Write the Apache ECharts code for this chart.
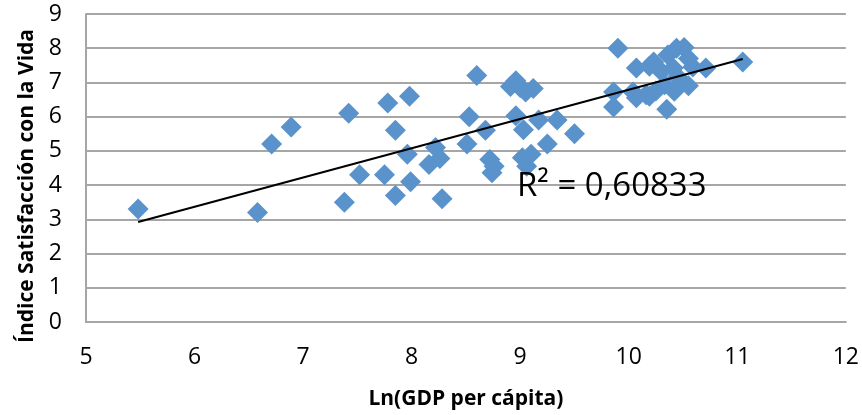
<!DOCTYPE html>
<html>
<head>
<meta charset="utf-8">
<script src="https://cdn.jsdelivr.net/npm/echarts@6/dist/echarts.min.js"></script>
<style>
  html, body { margin: 0; padding: 0; background: #fff; }
  #chart { width: 862px; height: 415px; }
</style>
</head>
<body>
<div id="chart"></div>
<script>
// Ln(GDP per capita) for each country
const gdpLn = [
  5.48, 6.58, 6.71, 6.89, 7.42, 7.38, 7.52, 7.78, 7.75, 7.85,
  7.85, 7.98, 7.96, 7.99, 8.16, 8.22, 8.26, 8.28,
  8.51, 8.53, 8.60, 8.68, 8.72, 8.76, 8.74, 8.91, 8.96, 9.00,
  9.05, 9.12, 8.96, 9.03, 9.17, 9.34, 9.50, 9.25, 9.02, 9.10, 9.06,
  9.90, 10.07, 9.86, 9.86, 10.04, 10.07, 10.16, 10.19, 10.23, 10.36,
  10.44, 10.51, 10.55, 10.59, 10.30, 10.41, 10.45, 10.33, 10.25, 10.42,
  10.19, 10.35, 10.55, 10.71, 11.05
]
// life satisfaction index, same order
const lifeSat = [
  3.30, 3.20, 5.20, 5.70, 6.10, 3.50, 4.30, 6.40, 4.30, 3.70,
  5.60, 6.60, 4.90, 4.10, 4.60, 5.10, 4.78, 3.60,
  5.20, 6.00, 7.20, 5.60, 4.75, 4.55, 4.36, 6.88, 7.05, 6.85,
  6.72, 6.82, 6.03, 5.62, 5.90, 5.90, 5.50, 5.20, 4.80, 4.90, 4.55,
  8.00, 7.42, 6.72, 6.28, 6.72, 6.55, 6.64, 7.47, 7.60, 7.80,
  8.00, 8.02, 7.70, 7.45, 7.32, 7.42, 7.17, 6.93, 6.75, 6.74,
  6.60, 6.22, 6.90, 7.42, 7.60
]
// linear trend
const trendSlope = 0.855
const trendIntercept = -1.765
const trendLabel = 'R² = 0,60833'

const xTicks = [5, 6, 7, 8, 9, 10, 11, 12]
const yTicks = [0, 1, 2, 3, 4, 5, 6, 7, 8, 9]

const points = gdpLn.map((x, i) => [x, lifeSat[i]])
const xMin = Math.min(...gdpLn)
const xMax = Math.max(...gdpLn)
const trendLine = [
  [xMin, trendIntercept + trendSlope * xMin],
  [xMax, trendIntercept + trendSlope * xMax]
]

const font = "'Open Sans', 'Liberation Sans', sans-serif"

const chart = echarts.init(document.getElementById('chart'), null, { renderer: 'canvas' })
chart.setOption({
  animation: false,
  backgroundColor: '#fff',
  grid: {
    left: 86,
    right: 14,
    top: 14,
    bottom: 92
  },
  xAxis: {
    type: 'value',
    min: xTicks[0],
    max: xTicks[xTicks.length - 1],
    interval: 1,
    name: 'Ln(GDP per cápita)',
    nameLocation: 'middle',
    nameGap: 67,
    nameTextStyle: { fontFamily: font, fontWeight: 'bold', fontSize: 21, color: '#000' },
    axisLine: { show: true, lineStyle: { color: '#a6a6a6', width: 2 } },
    axisTick: { show: false },
    splitLine: { show: false },
    axisLabel: { fontFamily: font, fontSize: 23, color: '#000', margin: 24 }
  },
  yAxis: {
    type: 'value',
    min: yTicks[0],
    max: yTicks[yTicks.length - 1],
    interval: 1,
    name: 'Índice Satisfacción con la Vida',
    nameLocation: 'middle',
    nameGap: 48,
    nameTextStyle: {
      fontFamily: font, fontWeight: 'bold', fontSize: 21, color: '#000',
      padding: [0, 36, 0, 0]
    },
    axisLine: { show: true, lineStyle: { color: '#a6a6a6', width: 2 } },
    axisTick: { show: false },
    splitLine: { show: true, lineStyle: { color: '#a6a6a6', width: 2 } },
    axisLabel: { fontFamily: font, fontSize: 23, color: '#000', margin: 24 }
  },
  series: [
    {
      name: 'países',
      type: 'scatter',
      symbol: 'diamond',
      symbolSize: 21,
      itemStyle: { color: '#5a93cb', opacity: 1 },
      data: points,
      z: 2
    },
    {
      name: 'tendencia',
      type: 'line',
      data: trendLine,
      symbol: 'none',
      lineStyle: { color: '#000', width: 2 },
      z: 3
    }
  ],
  graphic: [
    {
      type: 'text',
      left: 517,
      top: 170,
      style: { text: trendLabel, fontFamily: font, fontSize: 33, fill: '#000' },
      z: 10
    }
  ]
})
</script>
</body>
</html>
